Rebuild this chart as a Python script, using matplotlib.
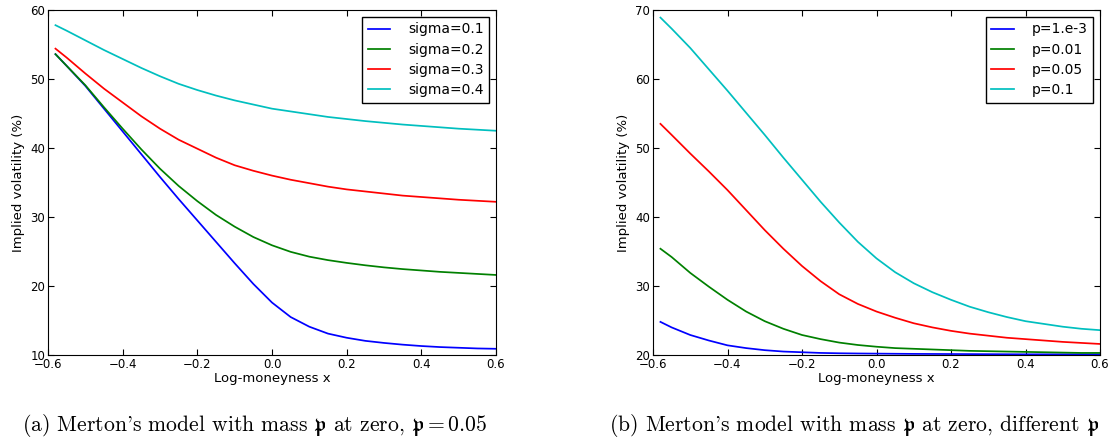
import matplotlib
matplotlib.use("Agg")
import matplotlib.pyplot as plt

plt.rcParams['xtick.direction'] = 'in'
plt.rcParams['ytick.direction'] = 'in'
plt.rcParams['xtick.top'] = True
plt.rcParams['ytick.right'] = True
plt.rcParams['mathtext.fontset'] = 'cm'

# log-moneyness grid
x = [-0.58, -0.55, -0.5, -0.45, -0.4, -0.35, -0.3, -0.25, -0.2, -0.15, -0.1, -0.05,
     0.0, 0.05, 0.1, 0.15, 0.2, 0.25, 0.3, 0.35, 0.4, 0.45, 0.5, 0.55, 0.6]

# (a) p = 0.05, different sigma
sigma_labels = ['sigma=0.1', 'sigma=0.2', 'sigma=0.3', 'sigma=0.4']
iv_s01 = [53.6, 51.9, 49.0, 45.7, 42.4, 39.1, 35.8, 32.6, 29.5, 26.4, 23.3, 20.3,
          17.6, 15.5, 14.1, 13.1, 12.5, 12.05, 11.75, 11.5, 11.3, 11.15, 11.05, 10.95, 10.9]
iv_s02 = [53.6, 51.9, 49.1, 45.9, 42.8, 39.8, 37.0, 34.5, 32.3, 30.3, 28.6, 27.1,
          25.9, 24.95, 24.25, 23.75, 23.35, 23.0, 22.7, 22.45, 22.25, 22.05, 21.9, 21.75, 21.6]
iv_s03 = [54.4, 53.1, 50.8, 48.6, 46.6, 44.6, 42.8, 41.2, 39.9, 38.6, 37.5, 36.7,
          36.0, 35.4, 34.9, 34.4, 34.0, 33.7, 33.4, 33.1, 32.9, 32.7, 32.5, 32.35, 32.2]
iv_s04 = [57.8, 57.0, 55.6, 54.2, 52.9, 51.6, 50.4, 49.3, 48.4, 47.6, 46.9, 46.3,
          45.7, 45.3, 44.9, 44.5, 44.2, 43.9, 43.65, 43.4, 43.2, 43.0, 42.8, 42.65, 42.5]

# (b) sigma = 0.2, different p
p_labels = ['p=1.e-3', 'p=0.01', 'p=0.05', 'p=0.1']
iv_p0001 = [24.8, 24.0, 22.9, 22.1, 21.4, 21.0, 20.7, 20.5, 20.4, 20.3, 20.25, 20.22,
            20.2, 20.18, 20.16, 20.15, 20.14, 20.13, 20.12, 20.11, 20.1, 20.1, 20.1, 20.1, 20.1]
iv_p001 = [35.4, 34.2, 31.9, 29.9, 28.0, 26.3, 24.9, 23.8, 22.9, 22.3, 21.8, 21.45,
           21.2, 21.0, 20.9, 20.8, 20.7, 20.6, 20.55, 20.5, 20.45, 20.4, 20.35, 20.3, 20.3]
iv_p005 = [53.5, 51.9, 49.2, 46.6, 43.9, 41.0, 38.1, 35.4, 32.9, 30.7, 28.8, 27.4,
           26.3, 25.4, 24.6, 24.0, 23.5, 23.1, 22.8, 22.5, 22.3, 22.1, 21.9, 21.75, 21.6]
iv_p01 = [68.9, 67.3, 64.5, 61.4, 58.3, 55.1, 51.9, 48.6, 45.4, 42.2, 39.2, 36.4,
          34.0, 32.0, 30.4, 29.1, 28.0, 27.0, 26.2, 25.5, 24.9, 24.5, 24.1, 23.8, 23.6]

colors = ['b', 'g', 'r', 'c']

fig = plt.figure(figsize=(11.17, 4.4), dpi=100)
W, H = 1117.0, 440.0
ax1 = fig.add_axes([48 / W, 1 - 355 / H, 448 / W, 345 / H])
ax2 = fig.add_axes([653 / W, 1 - 355 / H, 447 / W, 345 / H])

for ax, series, labels, ylim in [
        (ax1, [iv_s01, iv_s02, iv_s03, iv_s04], sigma_labels, (10, 60)),
        (ax2, [iv_p0001, iv_p001, iv_p005, iv_p01], p_labels, (20, 70))]:
    for ys, lab, c in zip(series, labels, colors):
        ax.plot(x, ys, color=c, lw=1.25, label=lab)
    ax.set_xlim(-0.6, 0.6)
    ax.set_ylim(*ylim)
    ax.set_xticks([-0.6, -0.4, -0.2, 0.0, 0.2, 0.4, 0.6])
    ax.tick_params(labelsize=8.5, length=4, pad=2)
    ax.set_xlabel('Log-moneyness x', fontsize=9.5, labelpad=1)
    ax.set_ylabel('Implied volatility (%)', fontsize=9.5, labelpad=4)
    leg = ax.legend(loc='upper right', fontsize=10, fancybox=False, framealpha=1,
                    edgecolor='black', handlelength=1.6, handletextpad=1.3,
                    labelspacing=0.45, borderaxespad=0.5)
    leg.get_frame().set_linewidth(1.0)

fig.text(22 / W, 9 / H, r"(a) Merton's model with mass $\mathfrak{p}$ at zero, $\mathfrak{p}=0.05$",
         family='cmr10', fontsize=15.6, va='baseline')
fig.text(609 / W, 9 / H, r"(b) Merton's model with mass $\mathfrak{p}$ at zero, different $\mathfrak{p}$",
         family='cmr10', fontsize=15.6, va='baseline')

fig.savefig('out.png', dpi=100)
